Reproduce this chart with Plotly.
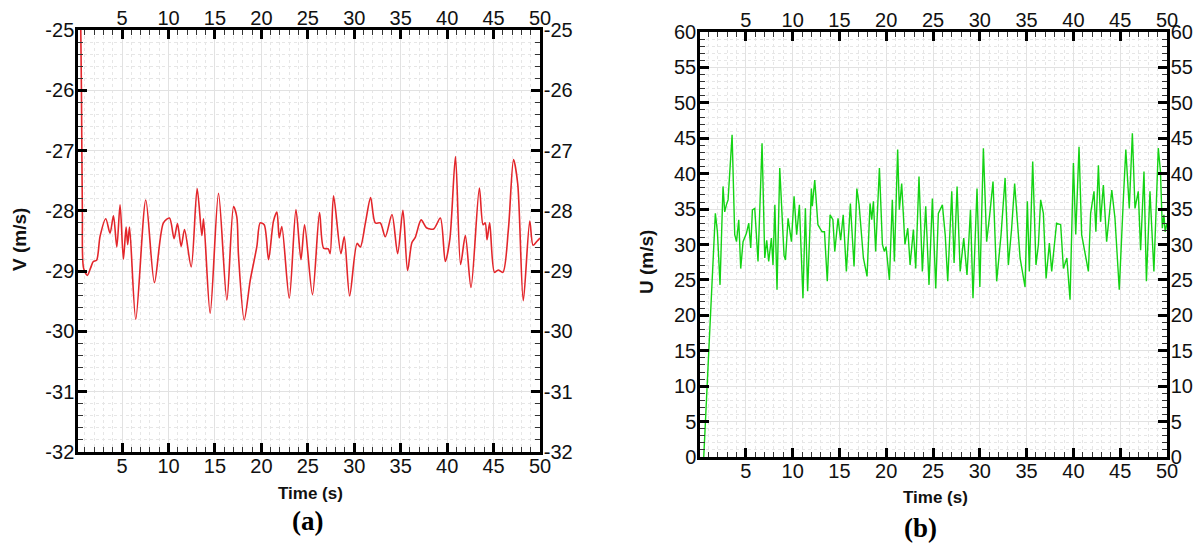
import plotly.graph_objects as go

# page body has an 8 px margin; the figure is sized/offset to compensate
OFF = 8
W, H = 1202 - OFF, 548 - OFF

# ---------------- data: panel (a) V(t) ----------------
t_v = [0.55, 0.62, 0.72, 0.85, 1.25, 1.6, 1.9, 2.25, 2.63, 3.24, 3.7, 4.07, 4.43, 4.78,
       5.14, 5.43, 5.6, 5.8, 6.47, 7.55, 8.48, 9.45, 10.1, 10.6, 10.96, 11.36, 11.72,
       12.44, 13.08, 13.59, 13.77, 14.48, 15.38, 16.28, 17.0, 17.35, 17.53, 18.15, 18.8,
       19.51, 19.87, 20.3, 20.77, 21.3, 21.67, 21.92, 22.2, 23.0, 23.72, 24.26, 24.65,
       25.5, 26.26, 26.7, 27.2, 27.4, 27.77, 28.56, 28.92, 29.5, 30.3, 30.65, 31.2, 31.76,
       32.26, 32.8, 33.34, 34.06, 34.67, 35.24, 35.74, 36.2, 36.57, 37.2, 37.77, 38.55,
       39.27, 39.8, 40.3, 40.9, 41.45, 41.96, 42.57, 43.47, 43.87, 44.1, 44.3, 44.58,
       45.1, 45.5, 46.0, 46.6, 47.15, 47.6, 48.2, 48.9, 49.25, 49.7, 50.0]
v_vals = [-25.0, -26.0, -28.0, -28.95, -29.07, -28.95, -28.84, -28.82, -28.42, -28.13,
          -28.37, -28.08, -28.6, -27.9, -28.8, -28.27, -28.56, -28.27, -29.8, -27.82,
          -29.19, -28.2, -28.12, -28.46, -28.21, -28.59, -28.31, -28.93, -27.63, -28.41,
          -28.13, -29.7, -27.71, -29.48, -27.93, -28.1, -28.73, -29.81, -29.15, -28.59,
          -28.2, -28.23, -28.81, -28.17, -28.02, -28.45, -28.26, -29.45, -27.98, -28.81,
          -28.23, -29.39, -28.03, -28.62, -28.63, -28.71, -27.75, -28.71, -28.43, -29.41,
          -28.54, -28.6, -28.2, -27.78, -28.2, -28.2, -28.43, -28.06, -28.71, -27.99,
          -28.99, -28.53, -28.44, -28.15, -28.28, -28.3, -28.12, -28.84, -28.46, -27.1,
          -28.89, -28.41, -29.27, -27.62, -28.23, -28.2, -28.48, -28.2, -29.02, -28.98,
          -29.02, -28.3, -27.15, -27.55, -29.49, -28.17, -28.57, -28.5, -28.45]

# ---------------- data: panel (b) U(t) ----------------
t_u = [0.5, 1.25, 1.74, 1.96, 2.24, 2.56, 2.74, 2.92, 3.1, 3.53, 3.81, 4.0, 4.24, 4.45,
       4.7, 5.06, 5.31, 5.52, 5.7, 5.95, 6.3, 6.73, 7.02, 7.23, 7.44, 7.73, 7.9, 8.1,
       8.33, 8.62, 8.87, 9.08, 9.23, 9.51, 9.87, 10.15, 10.43, 10.72, 11.1, 11.36, 11.6,
       12.0, 12.1, 12.36, 12.7, 13.14, 13.4, 13.7, 14.0, 14.3, 14.5, 14.85, 15.13, 15.4,
       15.74, 16.17, 16.56, 16.86, 17.1, 17.3, 17.56, 17.95, 18.27, 18.45, 18.63, 18.87,
       19.27, 19.59, 19.8, 19.98, 20.34, 20.65, 20.87, 21.22, 21.4, 21.65, 22.0, 22.3,
       22.55, 22.9, 23.15, 23.5, 23.86, 24.22, 24.57, 24.93, 25.29, 25.57, 26.0, 26.3,
       26.57, 27.0, 27.25, 27.57, 27.9, 28.28, 28.63, 29.0, 29.27, 29.7, 30.0, 30.38,
       30.73, 31.09, 31.41, 31.8, 32.27, 32.7, 33.05, 33.4, 33.72, 34.3, 34.65, 34.83,
       35.08, 35.29, 35.65, 36.0, 36.26, 36.5, 36.79, 37.08, 37.43, 37.68, 38.2, 38.64,
       38.93, 39.3, 39.64, 40.0, 40.25, 40.6, 40.88, 41.24, 41.6, 41.84, 42.2, 42.4,
       42.67, 42.9, 43.2, 43.55, 44.1, 44.44, 44.9, 45.34, 45.6, 45.97, 46.3, 46.58,
       46.93, 47.18, 47.54, 47.8, 48.18, 48.6, 49.07, 49.3, 49.5, 49.67, 49.8, 50.0]
u_vals = [0.0, 21.5, 34.4, 31.8, 24.3, 38.2, 34.6, 35.6, 36.3, 45.5, 31.4, 30.4, 33.5,
          26.6, 30.4, 31.6, 33.0, 29.5, 34.9, 35.1, 27.6, 44.3, 28.1, 30.6, 27.6, 30.9,
          27.1, 35.6, 23.6, 40.8, 33.2, 28.5, 27.8, 33.7, 30.4, 36.8, 31.4, 35.6, 22.4,
          35.1, 23.4, 37.9, 35.4, 39.1, 32.8, 31.8, 31.8, 24.8, 34.2, 33.5, 29.0, 33.7,
          30.6, 34.2, 26.2, 35.8, 26.9, 37.9, 35.6, 31.8, 28.1, 25.5, 35.8, 33.5, 36.1,
          29.0, 40.8, 30.0, 29.0, 29.7, 25.0, 36.3, 27.6, 43.4, 34.9, 38.6, 30.0, 32.3,
          27.1, 32.1, 26.6, 39.6, 26.2, 35.4, 24.3, 36.5, 23.8, 34.4, 35.6, 31.4, 24.8,
          37.5, 27.4, 38.2, 26.2, 30.9, 25.7, 34.9, 22.4, 37.9, 24.0, 43.6, 30.4, 34.6,
          38.9, 24.8, 31.4, 39.4, 27.1, 32.3, 38.6, 28.1, 25.7, 24.0, 36.1, 26.2, 41.7,
          27.1, 30.0, 36.3, 34.4, 25.2, 30.2, 26.2, 33.0, 32.8, 26.6, 28.1, 22.2, 41.5,
          31.4, 43.8, 31.4, 29.0, 26.2, 34.4, 37.5, 31.8, 41.2, 33.2, 38.4, 30.4, 37.7,
          33.7, 23.6, 36.5, 43.4, 35.1, 45.7, 35.1, 37.5, 29.2, 40.3, 24.8, 37.5, 26.2,
          43.6, 40.3, 32.3, 34.2, 31.8, 33.0]

# ---------------- axes ticks ----------------
x_ticks = [5, 10, 15, 20, 25, 30, 35, 40, 45, 50]
x_tick_text = ["5", "10", "15", "20", "25", "30", "35", "40", "45", "50"]
v_ticks = [-32, -31, -30, -29, -28, -27, -26, -25]
v_tick_text = ["-32", "-31", "-30", "-29", "-28", "-27", "-26", "-25"]
u_ticks = [0, 5, 10, 15, 20, 25, 30, 35, 40, 45, 50, 55, 60]
u_tick_text = ["0", "5", "10", "15", "20", "25", "30", "35", "40", "45", "50", "55", "60"]

x_range_a = [0.25, 50]
x_range_b = [0.1, 50]
v_range = [-32, -25]
u_range = [0, 60]

FONT = "Liberation Sans, Arial, sans-serif"
tickfont = dict(family=FONT, size=20, color="#111")


def px_x(p):
    return (p - OFF) / W


def px_y(p):
    return 1 - (p - OFF) / H


dom_a_x = [px_x(78), px_x(540)]
dom_a_y = [px_y(452), px_y(30)]
dom_b_x = [px_x(700), px_x(1167)]
dom_b_y = [px_y(457), px_y(32)]

fig = go.Figure()

fig.add_trace(go.Scatter(x=t_v, y=v_vals, mode="lines", xaxis="x", yaxis="y",
                         line=dict(color="#e3262b", width=1.6, shape="spline", smoothing=0.8),
                         showlegend=False, hoverinfo="skip"))
fig.add_trace(go.Scatter(x=x_range_a, y=v_range, mode="lines", xaxis="x3", yaxis="y3",
                         line=dict(color="rgba(0,0,0,0)"), showlegend=False, hoverinfo="skip"))
fig.add_trace(go.Scatter(x=t_u, y=u_vals, mode="lines", xaxis="x2", yaxis="y2",
                         line=dict(color="#14d314", width=1.4),
                         showlegend=False, hoverinfo="skip"))
fig.add_trace(go.Scatter(x=x_range_b, y=u_range, mode="lines", xaxis="x4", yaxis="y4",
                         line=dict(color="rgba(0,0,0,0)"), showlegend=False, hoverinfo="skip"))


def xaxis(dom, rng, anchor, grid=True, side="bottom", overlay=None):
    d = dict(domain=dom, range=rng, anchor=anchor, side=side, automargin=False,
             tickmode="array", tickvals=x_ticks, ticktext=x_tick_text,
             ticks="inside", ticklen=9, tickwidth=2.5, tickcolor="black",
             showline=True, linecolor="black", linewidth=2.5,
             showgrid=grid, gridcolor="#e2e2e2", gridwidth=1,
             zeroline=False, tickfont=tickfont, fixedrange=True, ticklabelstandoff=-6,
             minor=dict(tickmode="linear", tick0=0, dtick=1, ticks="inside", ticklen=5,
                        tickwidth=1, tickcolor="#333", showgrid=grid,
                        gridcolor="#e6e6e6", griddash="dot", gridwidth=1))
    if overlay:
        d["overlaying"] = overlay
    return d


def yaxis(dom, rng, anchor, vals, text, minor_dt, grid=True, side="left", overlay=None):
    d = dict(domain=dom, range=rng, anchor=anchor, side=side, automargin=False,
             tickmode="array", tickvals=vals, ticktext=text,
             ticks="inside", ticklen=9, tickwidth=2.5, tickcolor="black",
             showline=True, linecolor="black", linewidth=2.5,
             showgrid=grid, gridcolor="#e2e2e2", gridwidth=1,
             zeroline=False, tickfont=tickfont, fixedrange=True, ticklabelstandoff=-3,
             minor=dict(tickmode="linear", tick0=rng[0], dtick=minor_dt, ticks="inside",
                        ticklen=5, tickwidth=1, tickcolor="#333", showgrid=grid,
                        gridcolor="#e6e6e6", griddash="dot", gridwidth=1))
    if overlay:
        d["overlaying"] = overlay
    return d


fig.update_layout(
    template="none",
    width=W, height=H, autosize=False,
    margin=dict(l=0, r=0, t=0, b=0, pad=0),
    paper_bgcolor="white", plot_bgcolor="white",
    showlegend=False,
    xaxis=xaxis(dom_a_x, x_range_a, "y"),
    yaxis=yaxis(dom_a_y, v_range, "x", v_ticks, v_tick_text, 0.2),
    xaxis3=xaxis(dom_a_x, x_range_a, "y", grid=False, side="top", overlay="x"),
    yaxis3=yaxis(dom_a_y, v_range, "x", v_ticks, v_tick_text, 0.2, grid=False,
                 side="right", overlay="y"),
    xaxis2=xaxis(dom_b_x, x_range_b, "y2"),
    yaxis2=yaxis(dom_b_y, u_range, "x2", u_ticks, u_tick_text, 1),
    xaxis4=xaxis(dom_b_x, x_range_b, "y2", grid=False, side="top", overlay="x2"),
    yaxis4=yaxis(dom_b_y, u_range, "x2", u_ticks, u_tick_text, 1, grid=False,
                 side="right", overlay="y2"),
)

title_font = dict(family=FONT, size=19, color="#111")
annots = [
    dict(text="<b>V (m/s)</b>", x=px_x(20), y=px_y(240), textangle=-90, font=title_font),
    dict(text="<b>U (m/s)</b>", x=px_x(647), y=px_y(262), textangle=-90, font=title_font),
    dict(text="<b>Time (s)</b>", x=px_x(310), y=px_y(493),
         font=dict(family=FONT, size=17, color="#111")),
    dict(text="<b>Time (s)</b>", x=px_x(935), y=px_y(497),
         font=dict(family=FONT, size=17, color="#111")),
    dict(text="<b>(a)</b>", x=px_x(307), y=px_y(521),
         font=dict(family="Liberation Serif, Times New Roman, serif", size=27, color="black")),
    dict(text="<b>(b)</b>", x=px_x(920), y=px_y(528),
         font=dict(family="Liberation Serif, Times New Roman, serif", size=27, color="black")),
]
for a in annots:
    a.update(xref="paper", yref="paper", showarrow=False, xanchor="center", yanchor="middle")
fig.update_layout(annotations=annots)

fig.write_html("out.html")
